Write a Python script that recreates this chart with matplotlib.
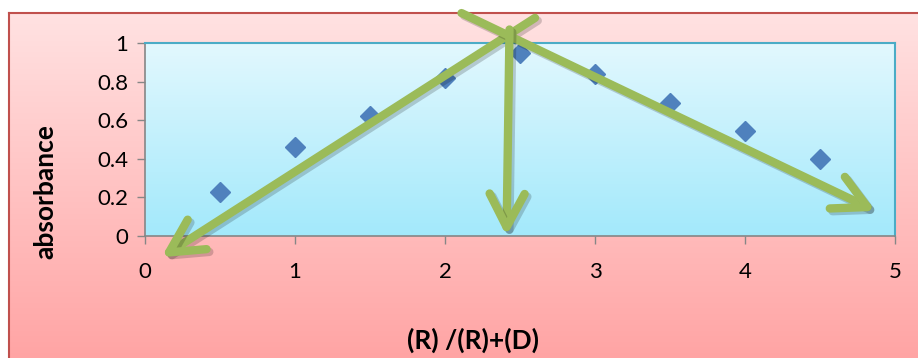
import numpy as np
import matplotlib.pyplot as plt
import matplotlib.patheffects as pe
from matplotlib.colors import LinearSegmentedColormap

# Job's plot data: mole fraction ratio vs absorbance
ratio = [0.5, 1.0, 1.5, 2.0, 2.5, 3.0, 3.5, 4.0, 4.5]
absorbance = [0.23, 0.46, 0.62, 0.82, 0.95, 0.84, 0.69, 0.545, 0.40]

xticks = [0, 1, 2, 3, 4, 5]
yticks = [0, 0.2, 0.4, 0.6, 0.8, 1]

# hand-drawn guide arrows (start -> end, data coords)
arrow_starts = [(2.60, 1.13), (2.11, 1.155), (2.43, 1.07)]
arrow_ends = [(0.11, -0.11), (4.87, 0.13), (2.41, 0.0)]

plt.rcParams['font.family'] = ['Lato', 'DejaVu Sans']

fig = plt.figure(figsize=(9.18, 3.58), dpi=100)
fig.patch.set_facecolor('white')

# pink chart area with vertical gradient (light at top)
W, H = 918, 358
grad = np.linspace(0, 1, 256).reshape(-1, 1)
bg = fig.add_axes([9 / W, -0.02, 1.0, 1 - 13 / H + 0.02])
bg_cmap = LinearSegmentedColormap.from_list('pink', ['#FFE2E2', '#FFA3A3'])
bg.imshow(grad, aspect='auto', cmap=bg_cmap, extent=[0, 1, 0, 1], origin='upper')
bg.set_xticks([])
bg.set_yticks([])
for s in ['bottom', 'right']:
    bg.spines[s].set_visible(False)
for s in ['top', 'left']:
    bg.spines[s].set_color('#C0504D')
    bg.spines[s].set_linewidth(1.5)

# plot area, light cyan at top
ax = fig.add_axes([145 / W, 1 - 236 / H, 750 / W, 193 / H])
pa_cmap = LinearSegmentedColormap.from_list('cyan', ['#E2F8FE', '#A3E9FB'])
ax.imshow(grad, aspect='auto', cmap=pa_cmap, extent=[0, 5, 0, 1],
          origin='upper', zorder=0)
ax.set_xlim(0, 5)
ax.set_ylim(0, 1)

ax.plot(ratio, absorbance, linestyle='none', marker='D', markersize=10,
        color='#4F81BD', zorder=3)

for (x0, y0), (x1, y1) in zip(arrow_starts, arrow_ends):
    ax.annotate('', xy=(x1, y1), xytext=(x0, y0), annotation_clip=False,
                arrowprops=dict(arrowstyle='->,head_length=0.8,head_width=0.42',
                                lw=6, color='#9BBB59', mutation_scale=30,
                                shrinkA=0, shrinkB=0, capstyle='round',
                                joinstyle='round',
                                path_effects=[pe.SimpleLineShadow(offset=(2, -2),
                                                                  alpha=0.18),
                                              pe.Normal()]),
                zorder=4)

ax.set_xticks(xticks)
ax.set_yticks(yticks)
ax.set_yticklabels(['0', '0.2', '0.4', '0.6', '0.8', '1'])
ax.tick_params(axis='both', length=6, width=1, color='#868686',
               labelsize=16, labelcolor='black')
ax.tick_params(axis='x', pad=13)
ax.tick_params(axis='y', pad=6)
for s in ['top', 'right']:
    ax.spines[s].set_color('#4BACC6')
    ax.spines[s].set_linewidth(1.5)
for s in ['left', 'bottom']:
    ax.spines[s].set_color('#868686')
    ax.spines[s].set_linewidth(1.2)

fig.text(45 / W, 1 - 192 / H, 'absorbance', rotation=90, fontsize=19,
         fontweight='bold', ha='center', va='center')
fig.text(473 / W, 1 - 340 / H, '(R) /(R)+(D)', fontsize=19,
         fontweight='bold', ha='center', va='center')

fig.savefig('out.png', dpi=100)
